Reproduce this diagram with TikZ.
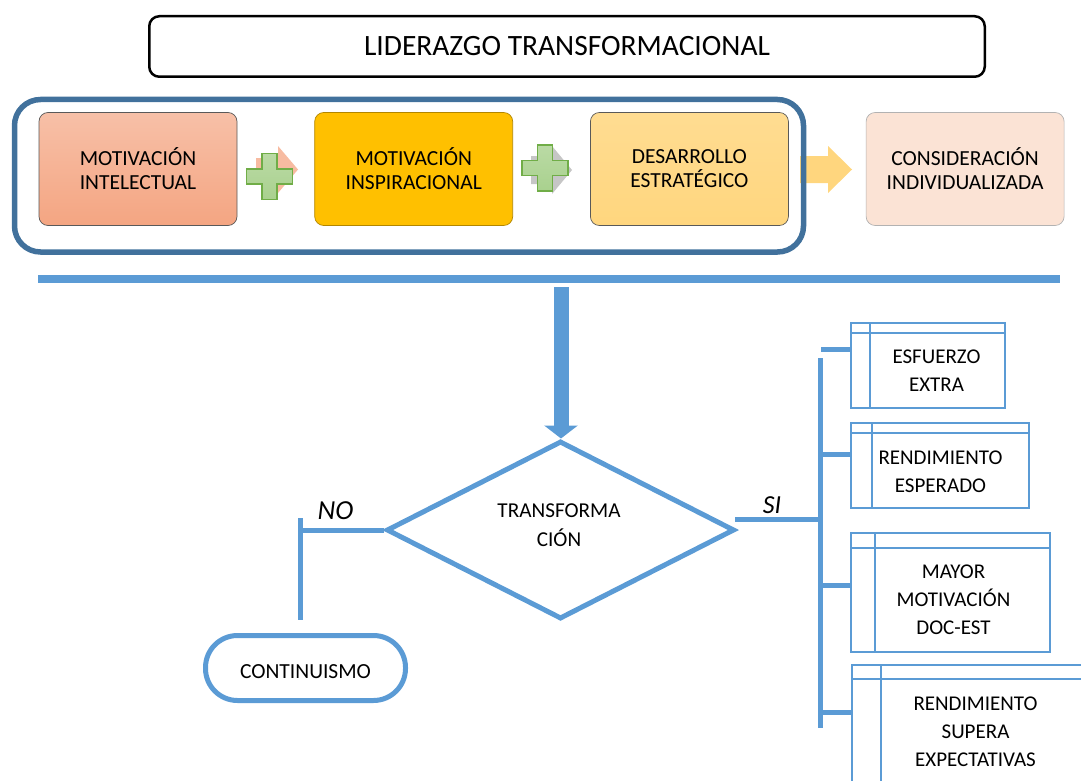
\documentclass[tikz,border=0pt]{standalone}
\usepackage{fontspec}
\setmainfont{Carlito}
\usepackage{tikz}
\usetikzlibrary{positioning}
\usetikzlibrary{shapes.geometric}
\usetikzlibrary{arrows.meta}
\definecolor{azul}{HTML}{5B9BD5}
\definecolor{azulmarco}{HTML}{41719C}
\definecolor{salmon}{HTML}{F4A582}
\definecolor{oro}{HTML}{FFC000}
\definecolor{oroclaro}{HTML}{FFD67E}
\definecolor{durazno}{HTML}{FBE3D5}
\definecolor{verde}{HTML}{70AD47}
\definecolor{verdeclaro}{HTML}{A9D18E}
\def\mylinea{azul}
\def\mytexto{\fontsize{21.5}{24}\selectfont}

\tikzset{
  caja/.style={draw=gray!70!black, line width=0.7pt, rounded corners=9pt, minimum width=198pt, minimum height=113pt, align=center, font=\mytexto},
  cruz/.style={draw=verde, line width=1.4pt, top color=verdeclaro!80!white, bottom color=verdeclaro},
  lista/.style={draw=\mylinea, line width=2.5pt, outer sep=0pt, anchor=north west},
  listatexto/.style={align=center, font=\fontsize{21}{28}\selectfont},
  conector/.style={draw=\mylinea, line width=5pt},
}

\begin{document}
\begin{tikzpicture}[x=1pt,y=1pt,scale=1.]
\useasboundingbox (0.,0.) rectangle (1081.,-781.);
\node [draw, rounded corners=10pt, line width=2.5pt, minimum width=835.5pt, minimum height=60.5pt, font=\fontsize{29.5}{34}\selectfont] (titulo) at (567.,-46.5) {LIDERAZGO TRANSFORMACIONAL};

% flechas de fondo
\fill [salmon!75!white] (256.,-158.) -- (278.,-158.) -- (278.,-146.) -- (298.,-169.5) -- (278.,-193.) -- (278.,-181.) -- (256.,-181.) -- cycle;
\fill [gray!45] (531.,-156.) -- (552.,-156.) -- (552.,-146.) -- (572.,-170.) -- (552.,-194.) -- (552.,-184.) -- (531.,-184.) -- cycle;
\fill [oroclaro] (800.,-156.) -- (828.,-156.) -- (828.,-146.) -- (852.,-169.5) -- (828.,-193.) -- (828.,-183.) -- (800.,-183.) -- cycle;
\filldraw [cruz, shift={(269.5,-176.5)}] (-7.5,23.) -- (7.5,23.) -- (7.5,7.5) -- (23.,7.5) -- (23.,-7.5) -- (7.5,-7.5) -- (7.5,-23.) -- (-7.5,-23.) -- (-7.5,-7.5) -- (-23.,-7.5) -- (-23.,7.5) -- (-7.5,7.5) -- cycle;
\filldraw [cruz, shift={(545.,-168.)}] (-7.5,23.) -- (7.5,23.) -- (7.5,7.5) -- (23.,7.5) -- (23.,-7.5) -- (7.5,-7.5) -- (7.5,-23.) -- (-7.5,-23.) -- (-7.5,-7.5) -- (-23.,-7.5) -- (-23.,7.5) -- (-7.5,7.5) -- cycle;

\node [caja, top color=salmon!70!white, bottom color=salmon] (intelectual) at (138.,-169.) {MOTIVACIÓN\\INTELECTUAL};
\node [caja, fill=oro, draw=oro!70!black, right=77pt of intelectual] (inspiracional) {MOTIVACIÓN\\INSPIRACIONAL};
\node [caja, top color=oroclaro!85!white, bottom color=oroclaro, right=77pt of inspiracional] (estrategico) {DESARROLLO\\ESTRATÉGICO};
\node [caja, fill=durazno, draw=gray!60, right=77pt of estrategico] (individual) {CONSIDERACIÓN\\INDIVIDUALIZADA};

\draw [rounded corners=26pt, line width=5.5pt, azulmarco] (14.5,-99.5) rectangle (803.5,-252.);
\draw [line width=8pt, \mylinea] (38.,-278.5) -- (1060.,-278.5);

% decision
\node [diamond, aspect=2, draw=\mylinea, line width=5pt, inner sep=0pt, minimum width=348pt, minimum height=178pt] (decision) at (560.5,-530.) {};
\node [align=center, font=\fontsize{21.2}{29}\selectfont] (decisiontexto) at (559.,-525.) {TRANSFORMA\\CIÓN};
\coordinate (flecha) at (561.,-287.);
\draw [\mylinea, line width=15pt, -{Triangle[width=33pt,length=13pt]}] (flecha) -- (flecha |- decision.north);

\node [draw=\mylinea, line width=5pt, rounded corners=32pt, minimum width=200pt, minimum height=65pt, font=\mytexto, text height=20pt, text depth=0pt] (continuismo) at (305.5,-668.) {CONTINUISMO};
\coordinate (noarriba) at (300.,-518.);
\coordinate (noabajo) at (300.,-620.);
\draw [conector] (decision.west) -- (decision.west -| noarriba);
\draw [conector] (noarriba) -- (noabajo);
\node [font=\fontsize{27.5}{30}\selectfont\itshape] (no) at (335.5,-511.) {NO};

% lado SI
\node [lista, minimum width=154pt, minimum height=85pt] (esfuerzo) at (851.,-323.) {};
\node [lista, minimum width=178pt, minimum height=85pt] (esperado) at (851.,-423.) {};
\node [lista, minimum width=199pt, minimum height=119pt] (motivacion) at (851.,-533.) {};
\node [lista, minimum width=260pt, minimum height=140pt] (supera) at (852.,-665.) {};
\draw [lista] ([yshift=-10pt]esfuerzo.north west) -- ([yshift=-10pt]esfuerzo.north east);
\draw [lista] ([xshift=19pt]esfuerzo.north west) -- ([xshift=19pt]esfuerzo.south west);
\draw [lista] ([yshift=-10pt]esperado.north west) -- ([yshift=-10pt]esperado.north east);
\draw [lista] ([xshift=21pt]esperado.north west) -- ([xshift=21pt]esperado.south west);
\draw [lista] ([yshift=-15pt]motivacion.north west) -- ([yshift=-15pt]motivacion.north east);
\draw [lista] ([xshift=24pt]motivacion.north west) -- ([xshift=24pt]motivacion.south west);
\draw [lista] ([yshift=-14pt]supera.north west) -- ([yshift=-14pt]supera.north east);
\draw [lista] ([xshift=29pt]supera.north west) -- ([xshift=29pt]supera.south west);
\node [listatexto] (esfuerzotexto) at (936.5,-371.) {ESFUERZO\\EXTRA};
\node [listatexto] (esperadotexto) at (940.5,-471.5) {RENDIMIENTO\\ESPERADO};
\node [listatexto] (motivaciontexto) at (953.5,-600.) {MAYOR\\MOTIVACIÓN\\DOC-EST};
\node [listatexto] (superatexto) at (975.5,-732.) {RENDIMIENTO\\SUPERA\\EXPECTATIVAS};

\coordinate (barraarriba) at (820.,-358.);
\coordinate (barraabajo) at (820.,-728.);
\coordinate (si) at (735.,-519.);
\coordinate (rama1) at (821.,-349.);
\coordinate (rama2) at (820.,-454.);
\coordinate (rama3) at (820.,-585.);
\coordinate (rama4) at (820.,-712.);
\draw [conector] (barraarriba) -- (barraabajo);
\draw [conector] (si) -- (si -| barraarriba);
\draw [conector] (rama1) -- (rama1 -| esfuerzo.west);
\draw [conector] (rama2) -- (rama2 -| esperado.west);
\draw [conector] (rama3) -- (rama3 -| motivacion.west);
\draw [conector] (rama4) -- (rama4 -| supera.west);
\node [font=\fontsize{26}{30}\selectfont\itshape] (sitexto) at (772.,-505.) {SI};
\end{tikzpicture}
\end{document}
